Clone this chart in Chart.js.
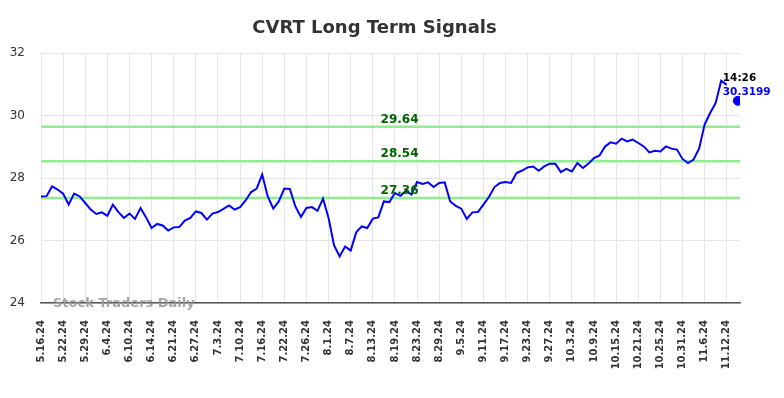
<!DOCTYPE html>
<html>
<head>
<meta charset="utf-8">
<script src="https://cdn.jsdelivr.net/npm/chart.js@4.4.1/dist/chart.umd.min.js"></script>
<style>
  html, body { margin: 0; padding: 0; background: #ffffff; }
  #wrap { width: 784px; height: 398px; }
</style>
</head>
<body>
<div id="wrap"><canvas id="c" width="784" height="398"></canvas></div>
<script>
const chartTitle = 'CVRT Long Term Signals';
const tickLabels = ['5.16.24','5.22.24','5.29.24','6.4.24','6.10.24','6.14.24','6.21.24','6.27.24','7.3.24','7.10.24','7.16.24','7.22.24','7.26.24','8.1.24','8.7.24','8.13.24','8.19.24','8.23.24','8.29.24','9.5.24','9.11.24','9.17.24','9.23.24','9.27.24','10.3.24','10.9.24','10.15.24','10.21.24','10.25.24','10.31.24','11.6.24','11.12.24'];
const closes = [27.41,27.42,27.73,27.63,27.50,27.15,27.50,27.41,27.20,26.99,
26.85,26.90,26.79,27.15,26.91,26.72,26.86,26.69,27.04,26.74,
26.40,26.53,26.48,26.32,26.42,26.43,26.64,26.72,26.93,26.88,
26.67,26.86,26.91,27.01,27.12,26.99,27.07,27.28,27.55,27.66,
28.11,27.41,27.02,27.25,27.66,27.65,27.09,26.75,27.04,27.07,
26.95,27.34,26.72,25.84,25.49,25.81,25.68,26.26,26.45,26.40,
26.70,26.74,27.25,27.23,27.52,27.43,27.59,27.47,27.87,27.81,
27.86,27.71,27.84,27.86,27.25,27.11,27.02,26.69,26.90,26.91,
27.15,27.39,27.71,27.84,27.87,27.84,28.16,28.24,28.34,28.37,
28.23,28.37,28.46,28.46,28.19,28.29,28.21,28.48,28.32,28.46,
28.64,28.72,29.01,29.14,29.10,29.26,29.17,29.23,29.12,29.01,
28.82,28.87,28.85,29.01,28.94,28.91,28.61,28.48,28.59,28.94,
29.71,30.08,30.40,31.11,30.98];
const levels = [29.64, 28.54, 27.36];
const levelLabels = ['29.64', '28.54', '27.36'];
const lastIndex = 126;
const lastPrice = 30.47;
const lastTime = '14:26';
const lastPriceLabel = '30.3199';
const yTicks = [24, 26, 28, 30, 32];
const xMax = 126.4;
const labelStep = 4;

const lineData = closes.map((v, i) => ({ x: i, y: v }));
const levelSets = levels.map(l => ({
  data: [{ x: 0, y: l }, { x: xMax, y: l }],
  borderColor: '#90ee90', borderWidth: 2.5, pointRadius: 0, fill: false, order: 2
}));

const textPlugin = {
  id: 'texts',
  afterDraw(chart) {
    const ctx = chart.ctx;
    const ca = chart.chartArea;
    const ys = chart.scales.y;
    ctx.save();
    // title
    ctx.font = 'bold 18px "DejaVu Sans"';
    ctx.fillStyle = '#333333';
    ctx.textAlign = 'center';
    ctx.textBaseline = 'alphabetic';
    ctx.fillText(chartTitle, 374.5, 33);
    // level labels
    ctx.font = 'bold 12px "DejaVu Sans"';
    ctx.fillStyle = '#006400';
    const lx = ca.left + 0.513 * (ca.right - ca.left);
    levels.forEach((l, i) => {
      ctx.fillText(levelLabels[i], lx, ys.getPixelForValue(l) - 4);
    });
    // watermark
    ctx.font = 'bold 13px "DejaVu Sans"';
    ctx.fillStyle = 'rgba(150,150,150,0.85)';
    ctx.textAlign = 'left';
    ctx.fillText('Stock Traders Daily', ca.left + 12, 307);
    // last price annotation
    const xs = chart.scales.x;
    const ax = xs.getPixelForValue(lastIndex) - 15;
    ctx.font = 'bold 10.5px "DejaVu Sans"';
    ctx.fillStyle = '#000000';
    ctx.fillText(lastTime, ax, 80.5);
    ctx.fillStyle = '#0000ff';
    ctx.fillText(lastPriceLabel, ax, 95);
    ctx.restore();
  }
};

new Chart(document.getElementById('c'), {
  type: 'line',
  data: {
    datasets: [
      { data: lineData, borderColor: '#0000ff', borderWidth: 2, pointRadius: 0, fill: false, tension: 0, order: 1 },
      { data: [{ x: lastIndex, y: lastPrice }], showLine: false, pointRadius: 4.5, pointBackgroundColor: '#0000ff', pointBorderColor: '#0000ff', order: 0 },
      ...levelSets
    ]
  },
  options: {
    responsive: false,
    animation: false,
    layout: { padding: { top: 53, right: 44, left: 0, bottom: 0 } },
    plugins: { legend: { display: false }, tooltip: { enabled: false }, title: { display: false } },
    scales: {
      x: {
        type: 'linear', min: 0, max: xMax,
        afterFit(s) { s.height = 95; },
        grid: { color: '#e6e6e6', lineWidth: 1, drawTicks: false },
        border: { display: true, color: '#555555', width: 1.5 },
        ticks: {
          stepSize: labelStep, includeBounds: false, autoSkip: false,
          maxRotation: 90, minRotation: 90, padding: 17,
          color: '#333333', font: { family: 'DejaVu Sans', size: 10, weight: 'bold' },
          callback: (v) => (v % labelStep === 0 ? tickLabels[v / labelStep] : '')
        }
      },
      y: {
        min: 24, max: 32,
        afterFit(s) { s.width = 41; },
        afterBuildTicks(s) { s.ticks = yTicks.map(v => ({ value: v })); },
        grid: { color: '#e6e6e6', lineWidth: 1, drawTicks: false },
        border: { display: false },
        ticks: { padding: 16, color: '#333333', font: { family: 'DejaVu Sans', size: 12 } }
      }
    }
  },
  plugins: [textPlugin]
});
</script>
</body>
</html>
